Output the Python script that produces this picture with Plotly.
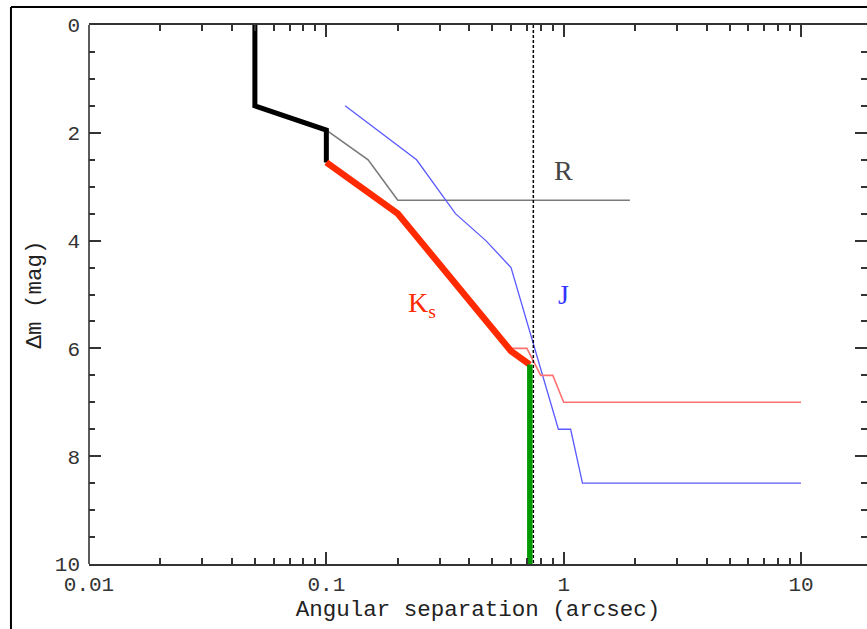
import plotly.graph_objects as go

# Detection-limit curves: magnitude difference vs angular separation
r_sep = [0.1, 0.15, 0.2, 1.9]
r_dm = [1.95, 2.5, 3.25, 3.25]

j_sep = [0.12, 0.24, 0.35, 0.47, 0.6, 0.95, 1.07, 1.2, 10]
j_dm = [1.5, 2.5, 3.5, 4.0, 4.5, 7.5, 7.5, 8.5, 8.5]

ks_sep = [0.6, 0.7, 0.8, 0.9, 1.0, 10]
ks_dm = [6.0, 6.0, 6.5, 6.5, 7.0, 7.0]

# Combined (excluded) region boundary
ao_sep = [0.05, 0.05, 0.1, 0.1]
ao_dm = [0, 1.5, 1.95, 2.55]

ks_ao_sep = [0.1, 0.2, 0.6, 0.72]
ks_ao_dm = [2.55, 3.5, 6.05, 6.3]

edge_sep = [0.72, 0.72]
edge_dm = [6.3, 10]

limit_sep = 0.745
dm_span = [0, 10]

x_ticks = [0.01, 0.1, 1, 10]
x_ticktext = ["0.01", "0.1", "1", "10"]
x_minor = [m * d for d in (0.01, 0.1, 1, 10) for m in range(2, 10)]
y_ticks = [0, 2, 4, 6, 8, 10]

fig = go.Figure()

fig.add_trace(go.Scatter(x=r_sep, y=r_dm, mode="lines",
                         line=dict(color="#7a7a7a", width=1.6)))
fig.add_trace(go.Scatter(x=j_sep, y=j_dm, mode="lines",
                         line=dict(color="#5a5aff", width=1.3)))
fig.add_trace(go.Scatter(x=ks_sep, y=ks_dm, mode="lines",
                         line=dict(color="#ff7272", width=1.6)))
fig.add_trace(go.Scatter(x=[limit_sep, limit_sep], y=dm_span, mode="lines",
                         line=dict(color="black", width=1.5, dash="3px,2px")))
fig.add_trace(go.Scatter(x=ao_sep, y=ao_dm, mode="lines",
                         line=dict(color="black", width=5)))
fig.add_trace(go.Scatter(x=ks_ao_sep, y=ks_ao_dm, mode="lines",
                         line=dict(color="#ff2a00", width=6.5)))
fig.add_trace(go.Scatter(x=edge_sep, y=edge_dm, mode="lines",
                         line=dict(color="#009a00", width=5.5)))

label_font = dict(family="Liberation Serif", size=28)
fig.add_annotation(x=0, y=2.7, xref="x", yref="y", text="R", showarrow=False,
                   font=dict(color="#444444", **label_font))
fig.add_annotation(x=0, y=5.0, xref="x", yref="y", text="J", showarrow=False,
                   font=dict(color="#3333ff", **label_font))
fig.add_annotation(x=-0.665, y=5.18, xref="x", yref="y", text="K<sub>s</sub>",
                   xanchor="left", showarrow=False,
                   font=dict(color="#ff2a00", **label_font))

# Outer frame
fig.add_shape(type="line", xref="paper", yref="paper",
              x0=-0.1003, x1=-0.1003, y0=-0.3, y1=1.0334,
              line=dict(color="black", width=2))
fig.add_shape(type="line", xref="paper", yref="paper",
              x0=-0.1003, x1=1.1, y0=1.0334, y1=1.0334,
              line=dict(color="black", width=2))
# Left spine
fig.add_shape(type="line", xref="paper", yref="paper",
              x0=0, x1=0, y0=0, y1=1,
              line=dict(color="#333333", width=1.6))

tick_font = dict(family="Liberation Mono", size=21, color="#333333")
fig.update_xaxes(type="log", range=[-2, 1.278],
                 tickmode="array", tickvals=x_ticks, ticktext=x_ticktext,
                 ticks="inside", ticklen=12, tickwidth=1.6, tickcolor="#333333",
                 minor=dict(tickmode="array", tickvals=x_minor, ticks="inside",
                            ticklen=6, tickwidth=1.6, tickcolor="#333333"),
                 showline=True, linecolor="#333333", linewidth=1.6, mirror="ticks",
                 showgrid=False, zeroline=False, tickfont=tick_font,
                 title=dict(text="Angular separation (arcsec)",
                            font=dict(family="Liberation Mono", size=22.5, color="#222222"),
                            standoff=0))
fig.update_yaxes(range=[10, 0], tickmode="array", tickvals=y_ticks,
                 ticks="inside", ticklen=12, tickwidth=1.6, tickcolor="#333333",
                 minor=dict(dtick=0.5, ticks="inside", ticklen=6, tickwidth=1.6,
                            tickcolor="#333333"),
                 showline=False, mirror="ticks", ticklabelstandoff=8,
                 showgrid=False, zeroline=False, tickfont=tick_font,
                 title=dict(text="Δm (mag)",
                            font=dict(family="Liberation Mono", size=22.5, color="#222222"),
                            standoff=6))

fig.update_layout(width=867, height=629, showlegend=False,
                  paper_bgcolor="white", plot_bgcolor="white",
                  margin=dict(l=89, r=0, t=25, b=65))

fig.write_html("out.html")
